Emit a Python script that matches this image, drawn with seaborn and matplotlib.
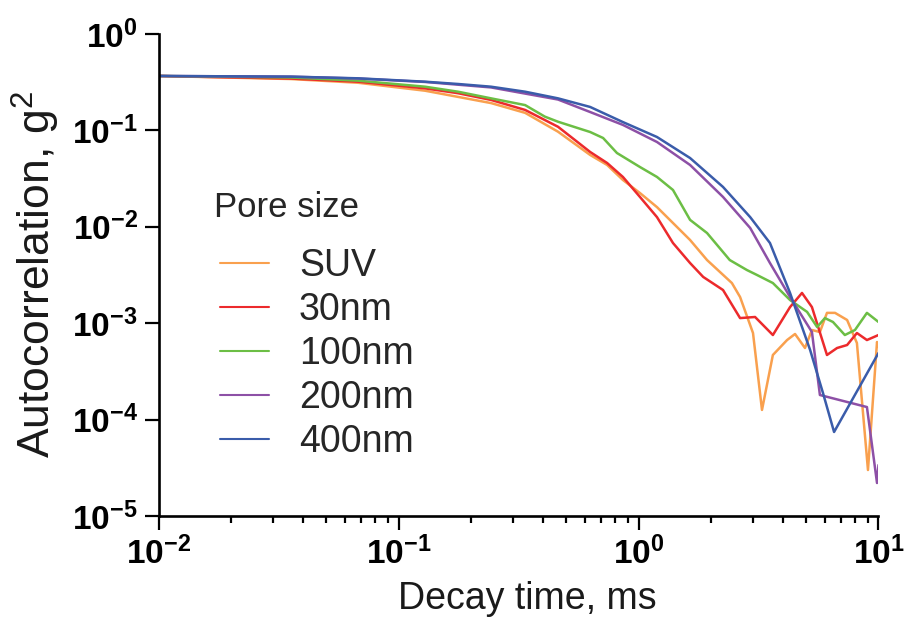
import numpy as np
import pandas as pd
import matplotlib
matplotlib.use("Agg")
import matplotlib.pyplot as plt
import seaborn as sns
from matplotlib.ticker import LogLocator, FuncFormatter, NullFormatter, NullLocator

# ---- measured autocorrelation curves (decay time in ms, g2) ----
suv_t = [0.01, 0.0356, 0.0678, 0.129, 0.243, 0.337, 0.462, 0.629, 0.740, 0.861,
         1.014, 1.194, 1.392, 1.64, 1.93, 2.45, 2.65, 3.00, 3.27, 3.63, 4.16,
         4.49, 4.94, 5.28, 5.70, 6.10, 6.59, 7.40, 8.13, 9.04, 9.86, 10.0]
suv_g = [0.367, 0.341, 0.312, 0.258, 0.192, 0.152, 0.0969, 0.0556, 0.0438, 0.0306,
         0.0224, 0.0160, 0.01095, 0.0073, 0.00452, 0.00261, 0.00187, 0.000791,
         0.000126, 0.000468, 0.000669, 0.000773, 0.000553, 0.00085, 0.00081,
         0.00128, 0.00128, 0.00108, 0.000623, 0.00003, 0.000638, 0.000566]

nm30_t = [0.01, 0.0356, 0.0678, 0.129, 0.177, 0.243, 0.337, 0.462, 0.629, 0.740,
          0.861, 1.014, 1.194, 1.392, 1.64, 1.86, 2.25, 2.65, 3.06, 3.63, 4.28,
          4.80, 5.28, 6.10, 6.72, 7.40, 8.13, 8.95, 10.0]
nm30_g = [0.367, 0.345, 0.320, 0.273, 0.243, 0.207, 0.163, 0.109, 0.0597, 0.0459,
          0.0329, 0.0204, 0.0126, 0.00679, 0.00421, 0.00302, 0.00221, 0.00113,
          0.00116, 0.000754, 0.00147, 0.00206, 0.00147, 0.000468, 0.000553,
          0.000594, 0.000791, 0.000669, 0.000754]

nm100_t = [0.01, 0.0356, 0.0678, 0.129, 0.177, 0.243, 0.337, 0.407, 0.462, 0.629,
           0.712, 0.813, 1.014, 1.194, 1.392, 1.64, 1.93, 2.40, 2.83, 3.12, 3.63,
           4.28, 5.04, 5.55, 5.98, 6.46, 7.24, 7.98, 8.95, 10.0]
nm100_g = [0.367, 0.354, 0.328, 0.284, 0.252, 0.215, 0.183, 0.139, 0.123, 0.0962,
           0.0834, 0.0583, 0.0417, 0.0329, 0.0241, 0.0118, 0.00862, 0.00452,
           0.00356, 0.00316, 0.00261, 0.00174, 0.00131, 0.000913, 0.00113,
           0.00103, 0.000754, 0.00085, 0.00128, 0.00103]

nm200_t = [0.01, 0.0356, 0.0678, 0.129, 0.243, 0.462, 0.629, 0.861, 1.194, 1.64,
           2.25, 2.92, 3.53, 4.28, 5.28, 5.70, 8.95, 9.86, 10.0]
nm200_g = [0.367, 0.361, 0.345, 0.318, 0.279, 0.209, 0.155, 0.114, 0.0758, 0.0438,
           0.0204, 0.00972, 0.00421, 0.00187, 0.00081, 0.00018, 0.000135,
           0.000022, 0.0000338]

nm400_t = [0.01, 0.0356, 0.0678, 0.129, 0.177, 0.243, 0.337, 0.462, 0.629, 0.861,
           1.194, 1.64, 2.25, 2.92, 3.53, 4.28, 5.19, 5.87, 6.53, 10.0]
nm400_g = [0.367, 0.361, 0.347, 0.320, 0.303, 0.284, 0.252, 0.215, 0.175, 0.122,
           0.0854, 0.0517, 0.0259, 0.0126, 0.00679, 0.00206, 0.000527, 0.000189,
           0.0000744, 0.000491]

pore_labels = ["SUV", "30nm", "100nm", "200nm", "400nm"]
pore_colors = ["#F9A04E", "#EC2A2C", "#6CBE45", "#8D50A6", "#3A5CAA"]
series = [(suv_t, suv_g), (nm30_t, nm30_g), (nm100_t, nm100_g),
          (nm200_t, nm200_g), (nm400_t, nm400_g)]

frames = []
for name, (t, g) in zip(pore_labels, series):
    frames.append(pd.DataFrame({"time": t, "g2": g, "pore": name}))
df = pd.concat(frames, ignore_index=True)

# ---- style ----
sns.set_theme(style="ticks")
plt.rcParams["font.family"] = ["Liberation Sans", "DejaVu Sans"]
plt.rcParams["mathtext.fontset"] = "custom"
plt.rcParams["mathtext.rm"] = "Liberation Sans"
plt.rcParams["mathtext.bf"] = "Liberation Sans:bold"

fig = plt.figure(figsize=(9.08, 6.26), dpi=100)
ax = fig.add_axes([0.1746, 0.1757, 0.7929, 0.7700])

sns.lineplot(data=df, x="time", y="g2", hue="pore", hue_order=pore_labels,
             palette=dict(zip(pore_labels, pore_colors)), estimator=None,
             sort=False, linewidth=1.8, ax=ax)

ax.set_xscale("log")
ax.set_yscale("log")
ax.set_xlim(1e-2, 1e1)
ax.set_ylim(1e-5, 1e0)

for side in ("top", "right"):
    ax.spines[side].set_visible(False)
for side in ("left", "bottom"):
    ax.spines[side].set_linewidth(1.9)
    ax.spines[side].set_color("black")

decade_fmt = FuncFormatter(lambda v, pos: r"$\mathbf{10^{%d}}$" % int(round(np.log10(v))))
ax.xaxis.set_major_locator(LogLocator(base=10, numticks=10))
ax.xaxis.set_minor_locator(LogLocator(base=10, subs=np.arange(2, 10), numticks=20))
ax.xaxis.set_major_formatter(decade_fmt)
ax.xaxis.set_minor_formatter(NullFormatter())
ax.yaxis.set_major_locator(LogLocator(base=10, numticks=10))
ax.yaxis.set_minor_locator(NullLocator())
ax.yaxis.set_major_formatter(decade_fmt)

ax.tick_params(which="major", direction="out", length=10, width=1.6,
               color="black", labelsize=24, labelcolor="black", pad=5)
ax.tick_params(which="minor", direction="out", length=5, width=1.6, color="black")

ax.set_xlabel("Decay time, ms", fontsize=27, labelpad=10, color="#1a1a1a")
ax.xaxis.set_label_coords(0.512, -0.135)
ax.set_ylabel(r"Autocorrelation, g$^2$", fontsize=32, labelpad=7, color="#1a1a1a")

handles, labels = ax.get_legend_handles_labels()
leg = ax.legend(handles, labels, title="Pore size", frameon=False,
                loc="upper left", bbox_to_anchor=(0.056, 0.705),
                fontsize=27, title_fontsize=25, handlelength=1.3,
                handletextpad=0.8, labelspacing=0.21, borderaxespad=0)
leg._legend_box.align = "left"
leg._legend_box.sep = 13
leg._legend_handle_box.pad = 4.5
for line in leg.get_lines():
    line.set_linewidth(1.5)

fig.savefig("out.png", dpi=100)
